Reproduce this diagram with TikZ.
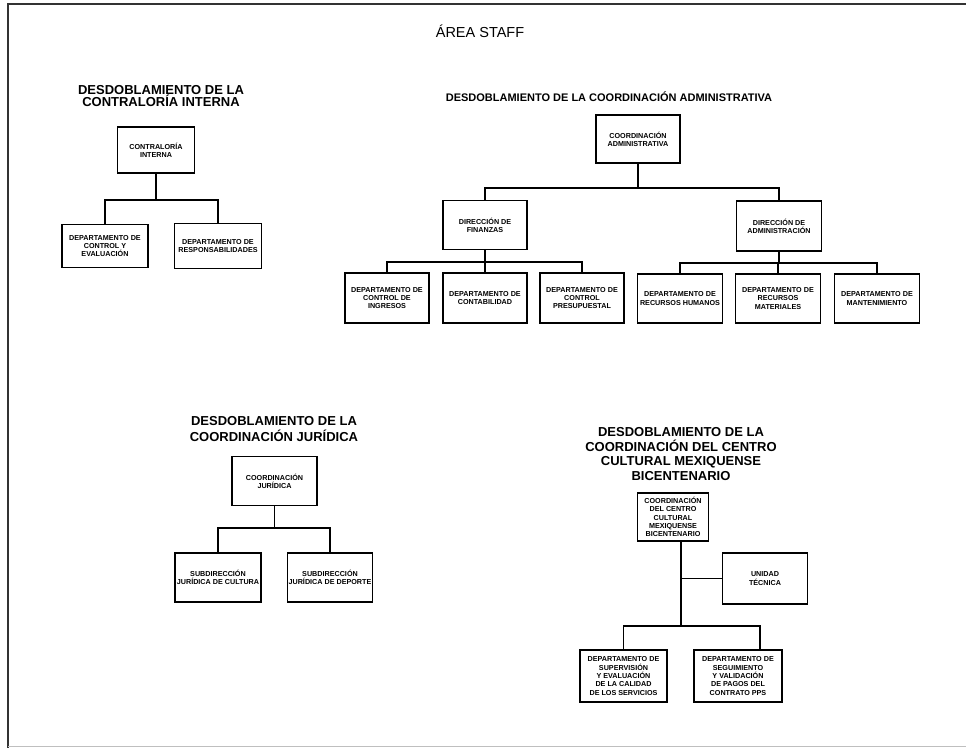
\documentclass[tikz,border=0pt]{standalone}
\usepackage{fontspec}
\setmainfont{Liberation Sans}
\tikzset{block/.style = {draw, fill=white, line width=1.4pt, rectangle, inner sep=1pt, align=center, minimum height=49, minimum width=85, font=\bfseries\fontsize{7.2}{8.3}\selectfont}}
\tikzset{heading/.style = {align=center, inner sep=0pt, font=\bfseries\fontsize{13}{12}\selectfont}}

\begin{document}
\begin{tikzpicture}[x=1pt, y=-1pt, line width=1.2pt]
    \useasboundingbox(0,0)rectangle(966,748);
    \draw[line width=1.5pt, black!80](966,4)--(8,4)--(8,748);
    \draw[black!25, line width=1pt](8,746)--(966,746);
    \node[font=\fontsize{14.5}{16}\selectfont](t)at(480,31){ÁREA STAFF};
    % contraloria interna
    \node[heading](h1)at(161,96){DESDOBLAMIENTO DE LA\\CONTRALORÍA INTERNA};
    \node[block, minimum width=77, minimum height=46](ci)at(156,150){CONTRALORÍA\\INTERNA};
    \coordinate(j1)at(156,200);
    \node[block, minimum width=86, minimum height=43](d1)at(105,246){DEPARTAMENTO DE\\CONTROL Y\\EVALUACIÓN};
    \node[block, minimum width=87, minimum height=45](d2)at(218,246){DEPARTAMENTO DE\\RESPONSABILIDADES};
    \draw(ci.south)--(j1)-|(d1.north);
    \draw(j1)-|(d2.north);
    % coordinacion administrativa
    \node[heading, font=\bfseries\fontsize{11}{12}\selectfont](h2)at(609,97){DESDOBLAMIENTO DE LA COORDINACIÓN ADMINISTRATIVA};
    \node[block, minimum width=84, minimum height=48](ca)at(638,139){COORDINACIÓN\\ADMINISTRATIVA};
    \coordinate(j2)at(638,188);
    \node[block, minimum width=84](df)at(485,225){DIRECCIÓN DE\\FINANZAS};
    \node[block, minimum height=50](da)at(779,226){DIRECCIÓN DE\\ADMINISTRACIÓN};
    \draw(ca.south)--(j2)-|(df.north);
    \draw(j2)-|(da.north);
    \coordinate(j3)at(485,262);
    \node[block, minimum width=84, minimum height=50](f1)at(387,298){DEPARTAMENTO DE\\CONTROL DE\\INGRESOS};
    \node[block, minimum width=84, minimum height=50](f2)at(485,298){DEPARTAMENTO DE\\CONTABILIDAD};
    \node[block, minimum width=84, minimum height=50](f3)at(582,298){DEPARTAMENTO DE\\CONTROL\\PRESUPUESTAL};
    \draw(df.south)--(j3)-|(f1.north);
    \draw(j3)--(f2.north);
    \draw(j3)-|(f3.north);
    \coordinate(j4)at(779,263);
    \node[block](a1)at(680,298.5){DEPARTAMENTO DE\\RECURSOS HUMANOS};
    \node[block](a2)at(778,298.5){DEPARTAMENTO DE\\RECURSOS\\MATERIALES};
    \node[block](a3)at(877,298.5){DEPARTAMENTO DE\\MANTENIMIENTO};
    \draw(da.south)--(j4)-|(a1.north);
    \draw(j4)-|(a2.north);
    \draw(j4)-|(a3.north);
    % coordinacion juridica
    \node[heading, font=\bfseries\fontsize{13}{16}\selectfont](h3)at(274,429){DESDOBLAMIENTO DE LA\\COORDINACIÓN JURÍDICA};
    \node[block](cj)at(274.5,481){COORDINACIÓN\\JURÍDICA};
    \coordinate(j5)at(274.5,528);
    \node[block, minimum width=86](s1)at(218,577.5){SUBDIRECCIÓN\\JURÍDICA DE CULTURA};
    \node[block](s2)at(330,577.5){SUBDIRECCIÓN\\JURÍDICA DE DEPORTE};
    \draw(cj.south)--(j5)-|(s1.north);
    \draw(j5)-|(s2.north);
    % centro cultural mexiquense bicentenario
    \node[heading, font=\bfseries\fontsize{13}{14.7}\selectfont](h4)at(681,454){DESDOBLAMIENTO DE LA\\COORDINACIÓN DEL CENTRO\\CULTURAL MEXIQUENSE\\BICENTENARIO};
    \node[block, minimum width=71, minimum height=48](cc)at(673,517){COORDINACIÓN\\DEL CENTRO\\CULTURAL\\MEXIQUENSE\\BICENTENARIO};
    \node[block, minimum height=51](ut)at(765,578.5){UNIDAD\\TÉCNICA};
    \coordinate(j6)at(681,578.5);
    \coordinate(j7)at(681,626);
    \node[block, minimum width=87, minimum height=52](c1)at(623.5,676){DEPARTAMENTO DE\\SUPERVISIÓN\\Y EVALUACIÓN\\DE LA CALIDAD\\DE LOS SERVICIOS};
    \node[block, minimum width=88, minimum height=52](c2)at(738,676){DEPARTAMENTO DE\\SEGUIMIENTO\\Y VALIDACIÓN\\DE PAGOS DEL\\CONTRATO PPS};
    \draw(cc.south -| j7)--(j7);
    \draw(j6)--(ut.west);
    \draw(j7)-|(c1.north);
    \draw(j7)-|([xshift=22]c2.north);
\end{tikzpicture}
\end{document}
